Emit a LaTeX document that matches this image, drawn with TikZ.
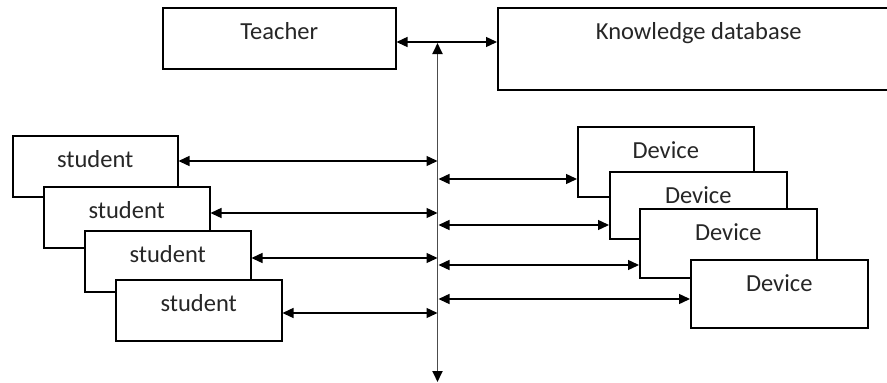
\documentclass[tikz,border=0pt]{standalone}
\usepackage{fontspec}
\setmainfont{Carlito}
\usetikzlibrary{arrows.meta}
\begin{document}
\begin{tikzpicture}[x=1pt,y=-1pt,
  bx/.style={draw=black, fill=white, line width=1.5pt, inner sep=0pt, anchor=north west,
    text height=32pt, font=\fontsize{24.5}{28}\selectfont, text=black!85},
  tip/.style={Triangle[length=11pt,width=10pt]},
  dar/.style={{Triangle[length=11pt,width=10pt]}-{Triangle[length=11pt,width=10pt]}, line width=1.4pt},
  bus/.style={{Triangle[length=11pt,width=10pt,color=black]}-{Triangle[length=11pt,width=10pt,color=black]}, line width=1.8pt, draw=black!70}]
\useasboundingbox (0,0) rectangle (887,383);
\clip (0,0) rectangle (887,383);
% top
\node[bx, minimum width=233pt, text depth=29pt] (teacher) at (162,7) {Teacher};
\node[bx, minimum width=402pt, text depth=50pt] (kd) at (497,7) {Knowledge database};
% students
\node[bx, minimum width=165pt, text depth=29pt] (s1) at (12,135) {student};
\node[bx, minimum width=166pt, text depth=29pt] (s2) at (43,186) {student};
\node[bx, minimum width=166pt, text depth=29pt] (s3) at (84,230) {student};
\node[bx, minimum width=166pt, text depth=29pt] (s4) at (115,279) {student};
% devices
\node[bx, minimum width=176pt, text depth=38pt] (d1) at (577,126) {Device};
\node[bx, minimum width=177pt, text depth=35pt] (d2) at (609,171) {Device};
\node[bx, minimum width=177pt, text depth=37pt] (d3) at (639,208) {Device};
\node[bx, minimum width=177pt, text depth=36pt] (d4) at (690,259) {Device};
% bus coordinates
\coordinate (tk) at (437.5,42);
\coordinate (btop) at (437.5,43);
\coordinate (bbot) at (437.5,382);
\coordinate (b1) at (437.5,161);
\coordinate (b2) at (437.5,213);
\coordinate (b3) at (437.5,258);
\coordinate (b4) at (437.5,313);
\coordinate (c1) at (438.5,179);
\coordinate (c2) at (438.5,225);
\coordinate (c3) at (438.5,265);
\coordinate (c4) at (438.5,299);
% connectors
\draw[dar] (teacher.east |- tk) -- (kd.west |- tk);
\draw[bus] (btop) -- (bbot);
\draw[dar] (s1.east |- b1) -- (b1);
\draw[dar] (s2.east |- b2) -- (b2);
\draw[dar] (s3.east |- b3) -- (b3);
\draw[dar] (s4.east |- b4) -- (b4);
\draw[dar] (c1) -- (d1.west |- c1);
\draw[dar] (c2) -- (d2.west |- c2);
\draw[dar] (c3) -- (d3.west |- c3);
\draw[dar] (c4) -- (d4.west |- c4);
\end{tikzpicture}
\end{document}
